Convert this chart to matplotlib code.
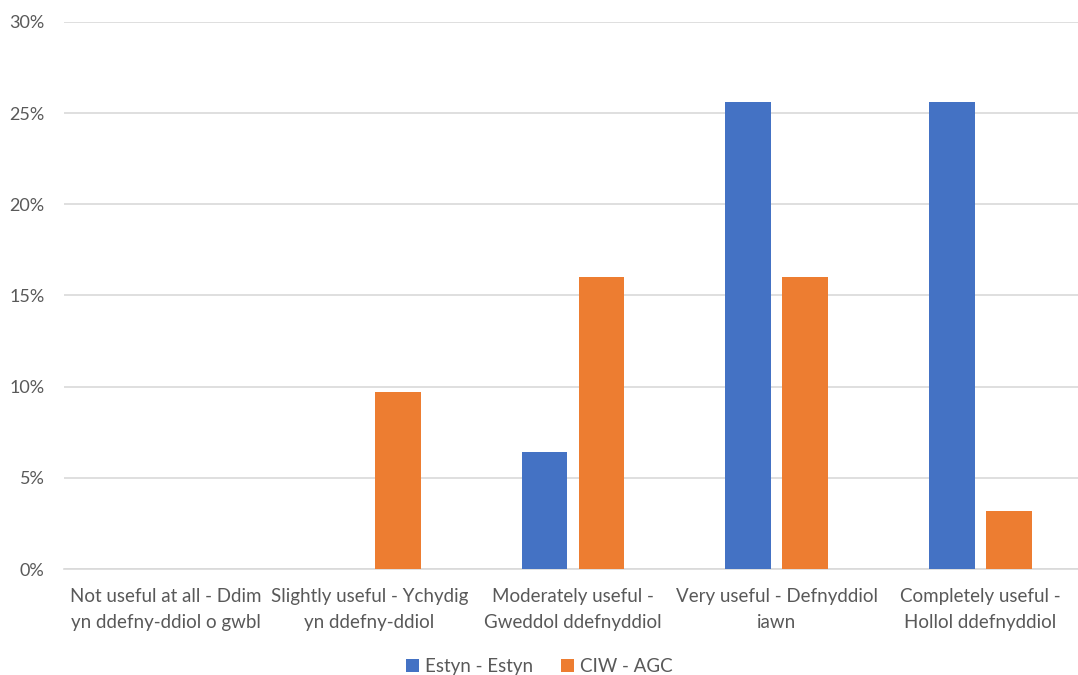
import numpy as np
from matplotlib import pyplot as plt
from matplotlib.ticker import FuncFormatter

# Chart data
categories = [
    'Not useful at all - Ddim\nyn ddefny-ddiol o gwbl',
    'Slightly useful - Ychydig\nyn ddefny-ddiol',
    'Moderately useful -\nGweddol ddefnyddiol',
    'Very useful - Defnyddiol\niawn',
    'Completely useful -\nHollol ddefnyddiol',
]
estyn = [0.0, 0.0, 6.4, 25.6, 25.6]
ciw = [0.0, 9.7, 16.0, 16.0, 3.2]
series_names = ['Estyn - Estyn', 'CIW - AGC']

plt.rcParams['font.family'] = ['Lato', 'DejaVu Sans']

fig = plt.figure(figsize=(10.78, 6.75), dpi=100)
ax = fig.add_axes([64 / 1078, 1 - 569 / 675, (1082 - 64) / 1078, (569 - 22) / 675])

x = np.arange(len(categories))
width = 0.225
offset = 0.14
ax.bar(x - offset, estyn, width, color='#4472C4', label=series_names[0], zorder=3)
ax.bar(x + offset, ciw, width, color='#ED7D31', label=series_names[1], zorder=3)

ax.set_xlim(-0.5, len(categories) - 0.5)
ax.set_ylim(0, 30)
ax.set_yticks(np.arange(0, 31, 5))
ax.yaxis.set_major_formatter(FuncFormatter(lambda v, p: f'{v:.0f}%'))
ax.yaxis.grid(True, color='#D9D9D9', linewidth=1.2, zorder=0)

ax.set_xticks(x)
ax.set_xticklabels(categories, fontsize=13.5, color='#595959', linespacing=1.6)
ax.tick_params(axis='y', labelsize=13, labelcolor='#595959', length=0, pad=14)
ax.tick_params(axis='x', length=0, pad=14)

for side in ['top', 'right', 'left']:
    ax.spines[side].set_visible(False)
ax.spines['bottom'].set_color('#D9D9D9')
ax.spines['bottom'].set_linewidth(1.2)

leg = fig.legend(loc='lower center', bbox_to_anchor=(0.5, -0.025), ncol=2, frameon=False,
                 fontsize=13.5, handlelength=0.7, handleheight=0.7, handletextpad=0.3,
                 columnspacing=1.5)
for t in leg.get_texts():
    t.set_color('#595959')

fig.savefig('out.png', dpi=100)
